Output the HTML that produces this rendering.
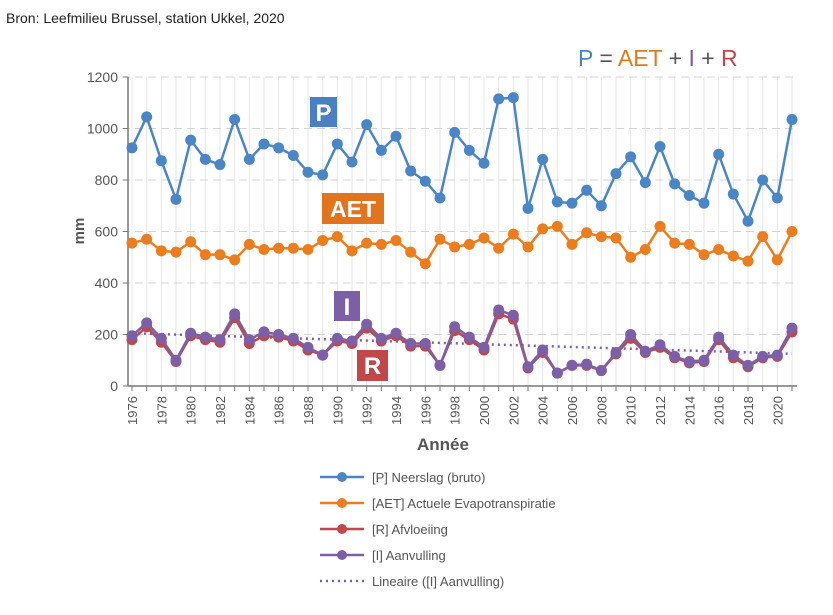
<!DOCTYPE html>
<html><head><meta charset="utf-8"><style>
body{margin:0;background:#fff;font-family:"Liberation Sans",sans-serif;}
svg text{font-family:"Liberation Sans",sans-serif;}
</style></head><body>
<svg width="833" height="610" xmlns="http://www.w3.org/2000/svg">
<text x="6" y="23" font-size="14" fill="#222">Bron: Leefmilieu Brussel, station Ukkel, 2020</text>
<text x="578" y="66" font-size="23"><tspan fill="#4a86c5">P</tspan><tspan fill="#555"> = </tspan><tspan fill="#e07b20">AET</tspan><tspan fill="#555"> + </tspan><tspan fill="#7a5aa6">I</tspan><tspan fill="#555"> + </tspan><tspan fill="#c0474a">R</tspan></text>
<g id="grid"></g><g id="axes"></g><g id="series"></g>
<rect x="310" y="97" width="27" height="30" fill="#4a7fc1"/>
<text x="323.5" y="121" font-size="24" font-weight="bold" fill="#fff" text-anchor="middle">P</text>
<rect x="322" y="193" width="62" height="31" fill="#e2741d"/>
<text x="353" y="217" font-size="23" font-weight="bold" fill="#fff" text-anchor="middle">AET</text>
<rect x="334" y="291" width="26" height="30" fill="#7d5fa8"/>
<text x="347" y="315" font-size="24" font-weight="bold" fill="#fff" text-anchor="middle">I</text>
<rect x="357" y="350" width="31" height="31" fill="#c0474a"/>
<text x="372.5" y="374" font-size="24" font-weight="bold" fill="#fff" text-anchor="middle">R</text>
<text transform="translate(84,231) rotate(-90)" font-size="15" font-weight="bold" fill="#555" text-anchor="middle">mm</text>
<text x="443" y="450" font-size="17" font-weight="bold" fill="#555" text-anchor="middle">Année</text>
<g id="legend"></g>
</svg>
<script>
const years=[];for(let y=1976;y<=2021;y++)years.push(y);
const yTicks=[0,200,400,600,800,1000,1200];
const P=[925,1045,875,725,955,880,860,1035,880,940,925,895,830,820,940,870,1015,915,970,835,795,730,985,915,865,1115,1120,690,880,715,710,760,700,825,890,790,930,785,740,710,900,745,640,800,730,1035];
const AET=[555,570,525,520,560,510,510,490,550,530,535,535,530,565,580,525,555,550,565,520,475,570,540,550,575,535,590,540,610,620,550,595,580,575,500,530,620,555,550,510,530,505,485,580,490,600];
const I=[195,245,185,100,205,190,180,280,180,210,200,185,150,120,185,175,240,185,205,165,165,80,230,190,150,295,275,75,140,50,80,85,60,130,200,135,160,115,95,100,190,120,80,115,120,225];
const R=[180,230,170,95,195,180,170,265,165,195,190,175,140,120,175,165,225,175,195,155,155,80,215,180,140,280,260,70,130,50,80,80,60,125,185,130,150,110,90,95,180,110,75,110,115,210];
const trendEnds=[205,125];
const legendLabels=["[P] Neerslag (bruto)","[AET] Actuele Evapotranspiratie","[R] Afvloeiing","[I] Aanvulling","Lineaire ([I] Aanvulling)"];
const NS="http://www.w3.org/2000/svg";
const X=y=>132+(y-1976)*(792-132)/45;
const Y=v=>386-v*(386-77)/1200;
function mk(tag,attrs,parent){const e=document.createElementNS(NS,tag);for(const k in attrs)e.setAttribute(k,attrs[k]);document.getElementById(parent).appendChild(e);return e;}
years.forEach(y=>{const l=mk('line',{x1:X(y),x2:X(y),y1:77,y2:386,stroke:'#e6e6e6'},'grid');});
yTicks.forEach(v=>{if(v>0){const l=mk('line',{x1:122,x2:797,y1:Y(v),y2:Y(v),stroke:'#d4d4d4','stroke-dasharray':'8,5'},'grid');}
const t=mk('text',{x:118,y:Y(v)+5,'font-size':14,fill:'#555','text-anchor':'end'},'axes');t.textContent=v;
const k=mk('line',{x1:123,x2:128,y1:Y(v),y2:Y(v),stroke:'#777'},'axes');});
let ax=mk('line',{x1:128,x2:128,y1:77,y2:386,stroke:'#777','stroke-width':1.5},'axes');
ax=mk('line',{x1:128,x2:797,y1:386,y2:386,stroke:'#777','stroke-width':1.5},'axes');
years.forEach(y=>{const k=mk('line',{x1:X(y),x2:X(y),y1:386,y2:391,stroke:'#777'},'axes');
if(y%2===0){const t=mk('text',{transform:`translate(${X(y)+5},425) rotate(-90)`,'font-size':13,fill:'#555'},'axes');t.textContent=y;}});
const tr=mk('line',{x1:X(1976),y1:Y(trendEnds[0]),x2:X(2021),y2:Y(trendEnds[1]),stroke:'#7d5fa8','stroke-width':2.5,'stroke-dasharray':'2,4'},'series');

function series(vals,color,name){const pts=vals.map((v,i)=>X(years[i])+','+Y(v)).join(' ');
const pl=mk('polyline',{points:pts,fill:'none',stroke:color,'stroke-width':2.5},'series');
vals.forEach((v,i)=>{const c=mk('circle',{cx:X(years[i]),cy:Y(v),r:5.5,fill:color},'series');});}
series(P,'#4a86c5','p');series(AET,'#ec7d1f','aet');series(R,'#c0474a','r');series(I,'#7d5fa8','i');
const lc=['#4a86c5','#ec7d1f','#c0474a','#7d5fa8','#7d5fa8'];
legendLabels.forEach((s,i)=>{const y=477+i*26;
if(i<4){const l=mk('line',{x1:320,x2:364,y1:y,y2:y,stroke:lc[i],'stroke-width':2.5},'legend');
const c=mk('circle',{cx:342,cy:y,r:5,fill:lc[i]},'legend');}
else{const l=mk('line',{x1:320,x2:364,y1:y,y2:y,stroke:lc[i],'stroke-width':2.5,'stroke-dasharray':'2,4'},'legend');}
const t=mk('text',{x:372,y:y+5,'font-size':13,fill:'#555'},'legend');t.textContent=s;});
</script>
</body></html>
